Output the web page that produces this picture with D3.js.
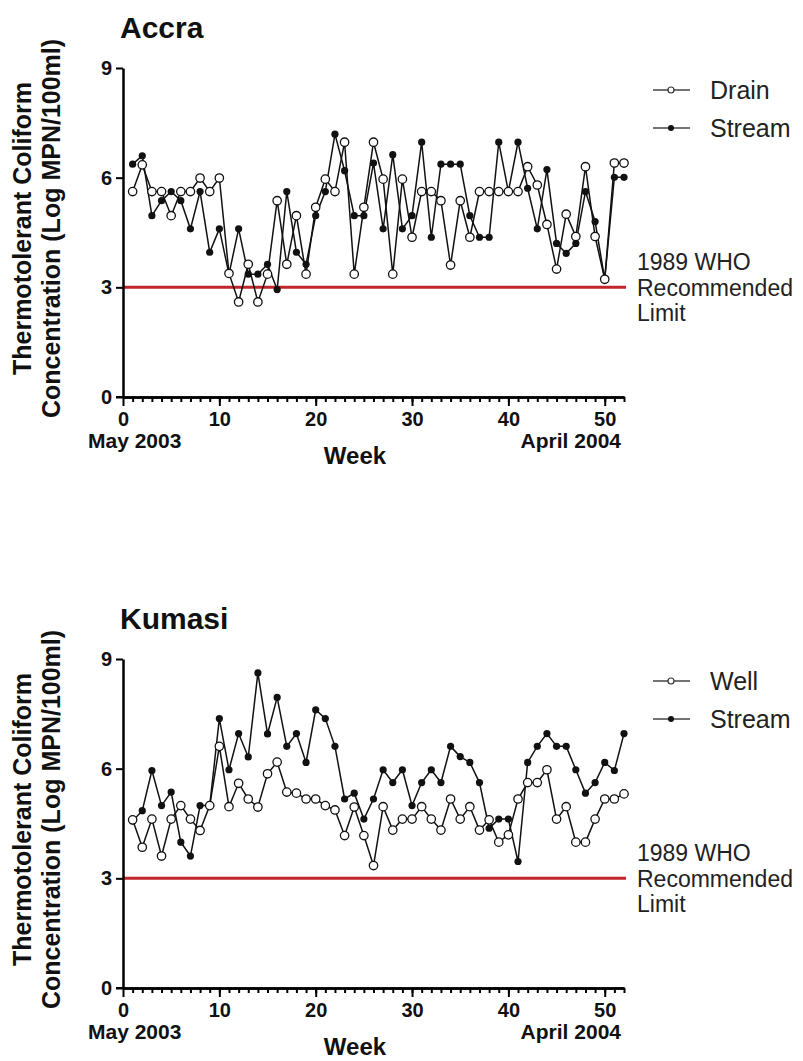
<!DOCTYPE html>
<html><head><meta charset="utf-8">
<script src="https://cdn.jsdelivr.net/npm/d3@7"></script>
<style>body{margin:0;background:#fff}svg{display:block}text{font-family:"Liberation Sans",Arial,sans-serif}</style>
</head><body><svg id="c" width="803" height="1061"></svg>
<script>
const weeks = [1,2,3,4,5,6,7,8,9,10,11,12,13,14,15,16,17,18,19,20,21,22,23,24,25,26,27,28,29,30,31,32,33,34,35,36,37,38,39,40,41,42,43,44,45,46,47,48,49,50,51,52];
const accraDrain = [5.62,6.35,5.62,5.62,4.96,5.62,5.62,5.99,5.62,5.99,3.38,2.6,3.63,2.6,3.36,5.37,3.63,4.96,3.36,5.19,5.96,5.62,6.97,3.36,5.19,6.97,5.96,3.36,5.96,4.37,5.62,5.62,5.37,3.61,5.37,4.37,5.62,5.62,5.62,5.62,5.62,6.3,5.8,4.72,3.5,5.0,4.39,6.3,4.39,3.22,6.4,6.4];
const accraStream = [6.37,6.6,4.96,5.37,5.62,5.37,4.6,5.62,3.96,4.6,3.36,4.6,3.36,3.36,3.63,2.94,5.62,3.96,3.63,4.96,5.62,7.19,6.19,4.96,4.96,6.4,4.6,6.63,4.6,4.96,6.97,4.37,6.37,6.37,6.37,4.96,4.37,4.37,6.97,5.62,6.97,5.71,4.6,6.22,4.2,3.93,4.2,5.62,4.8,3.22,6.01,6.01];
const kumasiWell = [4.6,3.85,4.62,3.61,4.62,4.99,4.62,4.31,4.99,6.61,4.96,5.6,5.17,4.95,5.86,6.18,5.36,5.33,5.17,5.17,4.99,4.87,4.17,4.95,4.17,3.35,4.96,4.32,4.62,4.62,4.96,4.62,4.32,5.17,4.62,4.96,4.32,4.6,3.99,4.19,5.17,5.62,5.62,5.97,4.62,4.96,3.99,3.99,4.62,5.17,5.17,5.31];
const kumasiStream = [4.57,4.85,5.95,4.99,5.36,3.99,3.61,4.99,4.99,7.37,5.97,6.96,6.32,8.62,6.95,7.95,6.61,6.96,6.17,7.61,7.37,6.61,5.17,5.33,4.62,5.17,5.97,5.62,5.97,4.99,5.62,5.97,5.62,6.61,6.33,6.17,5.62,4.37,4.62,4.62,3.46,6.17,6.61,6.96,6.61,6.61,5.97,5.33,5.62,6.17,5.95,6.96];
const yTicks = [0,3,6,9];
const xMajor = [0,10,20,30,40,50];
const whoLimit = 3;
const panels = [
  {title:"Accra", open:"Drain", openData:accraDrain, filled:"Stream", filledData:accraStream, top:68},
  {title:"Kumasi", open:"Well", openData:kumasiWell, filled:"Stream", filledData:kumasiStream, top:659}
];

const svg = d3.select("#c");
svg.append("rect").attr("width",803).attr("height",1061).attr("fill","#fff");
const x = d3.scaleLinear().domain([0,52]).range([123,624]);
const left = 123, right = 624;
const FF = '"Liberation Sans",Arial,sans-serif';

panels.forEach(p => {
  const y = d3.scaleLinear().domain([0,9]).range([p.top+329, p.top]);
  const g = svg.append("g");
  const bottom = y(0);

  g.append("text").attr("x",120).attr("y",p.top-30).attr("font-size",30).attr("font-weight","bold").attr("fill","#111").text(p.title);

  const yc = (p.top + bottom)/2 - 4;
  g.append("text").attr("transform",`translate(31,${yc}) rotate(-90)`).attr("text-anchor","middle")
    .attr("font-size",25).attr("font-weight","bold").attr("fill","#111").text("Thermotolerant Coliform");
  g.append("text").attr("transform",`translate(60,${yc}) rotate(-90)`).attr("text-anchor","middle")
    .attr("font-size",25).attr("font-weight","bold").attr("fill","#111").text("Concentration (Log MPN/100ml)");

  g.append("line").attr("x1",left).attr("x2",right+2).attr("y1",y(whoLimit)).attr("y2",y(whoLimit))
    .attr("stroke","#c0262c").attr("stroke-width",3);

  const ya = g.append("g").attr("transform",`translate(${left},0)`)
    .call(d3.axisLeft(y).tickValues(yTicks).tickSize(7).tickSizeOuter(0).tickPadding(4));
  const xMinor = g.append("g").attr("transform",`translate(0,${bottom})`)
    .call(d3.axisBottom(x).tickValues(weeks).tickSize(5).tickSizeOuter(0).tickFormat(""));
  const xa = g.append("g").attr("transform",`translate(0,${bottom})`)
    .call(d3.axisBottom(x).tickValues(xMajor).tickSize(9).tickSizeOuter(0).tickPadding(6));
  [ya,xa,xMinor].forEach(a=>{
    a.select(".domain").attr("stroke","#000").attr("stroke-width",2.5);
    a.selectAll(".tick line").attr("stroke","#000").attr("stroke-width",2);
    a.selectAll(".tick text").attr("font-size",20).attr("font-weight","bold").attr("fill","#111")
      .style("font-family",FF);
  });
  g.append("line").attr("x1",left-7).attr("x2",left).attr("y1",bottom).attr("y2",bottom).attr("stroke","#000").attr("stroke-width",2);

  g.append("text").attr("x",88).attr("y",bottom+51).attr("font-size",21).attr("font-weight","bold").attr("fill","#111").text("May 2003");
  g.append("text").attr("x",621).attr("y",bottom+51).attr("text-anchor","end").attr("font-size",21).attr("font-weight","bold").attr("fill","#111").text("April 2004");
  g.append("text").attr("x",355).attr("y",bottom+67).attr("text-anchor","middle").attr("font-size",24).attr("font-weight","bold").attr("fill","#111").text("Week");

  const line = d3.line().x((d,i)=>x(weeks[i])).y(d=>y(d));
  g.append("path").attr("d",line(p.openData)).attr("fill","none").attr("stroke","#111").attr("stroke-width",1.5);
  g.append("path").attr("d",line(p.filledData)).attr("fill","none").attr("stroke","#111").attr("stroke-width",1.5);
  g.selectAll(".f").data(p.filledData).enter().append("circle")
    .attr("cx",(d,i)=>x(weeks[i])).attr("cy",d=>y(d)).attr("r",3.6).attr("fill","#111");
  g.selectAll(".o").data(p.openData).enter().append("circle")
    .attr("cx",(d,i)=>x(weeks[i])).attr("cy",d=>y(d)).attr("r",4.2).attr("fill","#fff").attr("stroke","#111").attr("stroke-width",1.3);

  const ly1 = p.top + 22, ly2 = p.top + 60;
  g.append("line").attr("x1",653).attr("x2",690).attr("y1",ly1).attr("y2",ly1).attr("stroke","#444").attr("stroke-width",1.5);
  g.append("circle").attr("cx",671).attr("cy",ly1).attr("r",3).attr("fill","#fff").attr("stroke","#333").attr("stroke-width",1.2);
  g.append("text").attr("x",710).attr("y",ly1+9).attr("font-size",25).attr("fill","#222").text(p.open);
  g.append("line").attr("x1",653).attr("x2",690).attr("y1",ly2).attr("y2",ly2).attr("stroke","#444").attr("stroke-width",1.5);
  g.append("circle").attr("cx",671).attr("cy",ly2).attr("r",3).attr("fill","#111");
  g.append("text").attr("x",710).attr("y",ly2+9).attr("font-size",25).attr("fill","#222").text(p.filled);

  const wy = y(whoLimit);
  [["1989 WHO",-25],["Recommended",1],["Limit",26]].forEach(([t,dy])=>{
    g.append("text").attr("x",637).attr("y",wy+dy+8).attr("font-size",23).attr("fill","#222").text(t);
  });
});
</script></body></html>
